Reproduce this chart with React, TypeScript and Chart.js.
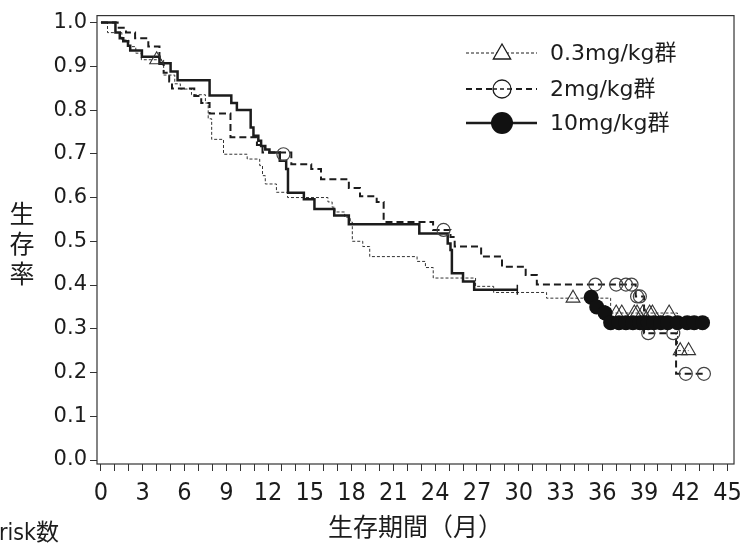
import React, { useEffect, useRef } from 'react';
import { Chart, registerables } from 'chart.js';

Chart.register(...registerables);

// ---- axis ticks ----
const xMinorTicks = [0,1,2,3,4,5,6,7,8,9,10,11,12,13,14,15,16,17,18,19,20,21,22,23,24,25,26,27,28,29,30,31,32,33,34,35,36,37,38,39,40,41,42,43,44,45];
const xLabelTicks = [0,3,6,9,12,15,18,21,24,27,30,33,36,39,42,45];
const yTicks = [0,0.1,0.2,0.3,0.4,0.5,0.6,0.7,0.8,0.9,1.0];

// ---- text ----
const seriesNames = ['0.3mg/kg群', '2mg/kg群', '10mg/kg群'];
const xTitle = '生存期間（月）';
const yTitleChars = ['生', '存', '率'];
const riskLabel = 'risk数';

// ---- 0.3 mg/kg (step curve) ----
const lowT = [0, 0.47, 1.5, 2.0, 2.5, 2.9, 4.5, 5.3, 5.7, 6.5, 7.5, 7.7, 7.95, 8.8, 10.5, 11.4, 11.6, 11.8, 12.6, 13.4, 16.3, 16.6, 16.8, 17.5, 17.9, 18.05, 18.8, 19.3, 22.7, 23.3, 23.86, 26.9, 28.2, 32.0, 36.6, 41.4, 42.2];
const lowS = [1.0, 0.977, 0.96, 0.945, 0.93, 0.915, 0.88, 0.86, 0.848, 0.835, 0.816, 0.78, 0.733, 0.699, 0.688, 0.673, 0.65, 0.631, 0.612, 0.6, 0.59, 0.578, 0.567, 0.555, 0.544, 0.5, 0.488, 0.465, 0.454, 0.44, 0.416, 0.397, 0.383, 0.37, 0.336, 0.25, 0.25];
const lowCensorT = [4.0, 33.9, 37.0, 37.4, 38.3, 38.5, 38.9, 39.4, 39.6, 40.8, 41.6, 42.2];
const lowCensorS = [0.915, 0.37, 0.336, 0.336, 0.336, 0.336, 0.336, 0.336, 0.336, 0.336, 0.25, 0.25];

// ---- 2 mg/kg ----
const midT = [0, 1.2, 1.8, 2.45, 3.4, 4.2, 4.5, 4.9, 5.1, 6.7, 7.2, 7.8, 9.3, 11.2, 11.6, 13.67, 15.1, 15.8, 17.8, 18.6, 19.8, 20.3, 23.85, 25.1, 25.4, 27.3, 28.8, 30.5, 31.3, 38.4, 39.0, 41.3, 43.3];
const midS = [1.0, 0.988, 0.977, 0.964, 0.945, 0.905, 0.885, 0.865, 0.849, 0.832, 0.816, 0.792, 0.738, 0.72, 0.703, 0.676, 0.665, 0.642, 0.622, 0.603, 0.59, 0.544, 0.526, 0.51, 0.488, 0.465, 0.442, 0.423, 0.401, 0.374, 0.29, 0.197, 0.197];
const midCensorT = [13.1, 24.6, 35.5, 37.0, 37.7, 38.1, 38.5, 38.7, 39.3, 41.1, 42.0, 43.3];
const midCensorS = [0.699, 0.526, 0.401, 0.401, 0.401, 0.401, 0.374, 0.374, 0.29, 0.29, 0.197, 0.197];

// ---- 10 mg/kg (null = gap in drawn curve) ----
const highT = [0, 1.04, 1.35, 1.6, 1.94, 2.1, 2.94, 4.2, 5.0, 5.5, 7.8, 9.36, 9.76, 10.75, 10.95, 11.3, 11.5, 11.8, 12.1, 12.84, 13.3, 13.43, 14.57, 15.33, 16.75, 17.8, 22.86, 24.9, 25.1, 25.2, 26.0, 26.8, 29.9, 32.0, 35.2, 35.6, 36.2, 36.5, 43.2];
const highS = [1.0, 0.977, 0.964, 0.957, 0.947, 0.936, 0.922, 0.907, 0.888, 0.868, 0.833, 0.816, 0.8, 0.76, 0.741, 0.73, 0.718, 0.71, 0.703, 0.684, 0.665, 0.611, 0.596, 0.574, 0.559, 0.539, 0.518, 0.495, 0.48, 0.427, 0.408, 0.389, 0.389, null, 0.372, 0.351, 0.336, 0.314, 0.314];
const highCensorT = [35.2, 35.6, 36.2, 36.6, 37.2, 37.7, 38.2, 38.7, 39.0, 39.3, 39.7, 40.2, 40.7, 41.4, 42.1, 42.6, 43.2];
const highCensorS = [0.372, 0.35, 0.336, 0.314, 0.314, 0.314, 0.314, 0.314, 0.314, 0.314, 0.314, 0.314, 0.314, 0.314, 0.314, 0.314, 0.314];
const highTickT = [29.9];
const highTickS = [0.389];

const pts = (t: number[], s: (number | null)[]) => t.map((x, i) => ({ x, y: s[i] }));

const INK = '#1c1c1c';

function drawTri(ctx: CanvasRenderingContext2D, x: number, y: number, r: number) {
  const side = (r * 3) / Math.sqrt(3);
  const h = (side * Math.sqrt(3)) / 2;
  ctx.beginPath();
  ctx.moveTo(x - side / 2, y + h / 3);
  ctx.lineTo(x + side / 2, y + h / 3);
  ctx.lineTo(x, y - (2 * h) / 3);
  ctx.closePath();
}

const decorPlugin = {
  id: 'decor',
  afterDraw(chart: any) {
    const { ctx, chartArea: a } = chart;
    ctx.save();
    ctx.strokeStyle = '#333';
    ctx.lineWidth = 1.2;
    ctx.setLineDash([]);
    ctx.strokeRect(a.left, a.top, a.right - a.left, a.bottom - a.top);

    ctx.fillStyle = INK;
    ctx.font = '25px "Noto Sans CJK JP"';
    ctx.textAlign = 'center';
    ctx.textBaseline = 'middle';
    yTitleChars.forEach((c, i) => ctx.fillText(c, 22, 213 + i * 30));
    ctx.font = '25px "Noto Sans CJK JP"';
    ctx.fillText(xTitle, (a.left + a.right) / 2, 526);

    ctx.textAlign = 'left';
    ctx.font = '23px "DejaVu Sans Condensed", "Noto Sans CJK JP"';
    ctx.fillText(riskLabel, -1, 534);

    // legend
    const rows = [53, 89, 123];
    const x0 = 466, x1 = 537, mx = 502;
    rows.forEach((y, i) => {
      ctx.strokeStyle = INK;
      if (i === 0) { ctx.lineWidth = 1; ctx.setLineDash([3, 2]); }
      else if (i === 1) { ctx.lineWidth = 2; ctx.setLineDash([6, 4]); }
      else { ctx.lineWidth = 2.5; ctx.setLineDash([]); }
      ctx.beginPath();
      ctx.moveTo(x0, y);
      ctx.lineTo(x1, y);
      ctx.stroke();
      ctx.setLineDash([]);
      if (i === 0) {
        drawTri(ctx, mx, y + 1, 10);
        ctx.fillStyle = '#fff';
        ctx.fill();
        ctx.lineWidth = 1.3;
        ctx.stroke();
      } else if (i === 1) {
        ctx.beginPath();
        ctx.arc(mx, y, 9, 0, Math.PI * 2);
        ctx.fillStyle = '#fff';
        ctx.fill();
        ctx.lineWidth = 1.3;
        ctx.stroke();
        ctx.beginPath();
        ctx.moveTo(mx - 9, y); ctx.lineTo(mx + 9, y);
        ctx.setLineDash([4, 3]);
        ctx.lineWidth = 1.5;
        ctx.stroke();
        ctx.setLineDash([]);
      } else {
        ctx.beginPath();
        ctx.arc(mx, y, 11, 0, Math.PI * 2);
        ctx.fillStyle = '#111';
        ctx.fill();
      }
      ctx.fillStyle = INK;
      ctx.font = '22px "DejaVu Sans", "Noto Sans CJK JP"';
      ctx.textAlign = 'left';
      ctx.textBaseline = 'middle';
      ctx.fillText(seriesNames[i], 550, y + 1);
    });
    ctx.restore();
  },
};

export default function App() {
  const ref = useRef<HTMLCanvasElement>(null);
  useEffect(() => {
    if (!ref.current) return;
    const chart = new Chart(ref.current, {
      type: 'scatter',
      data: {
        datasets: [
          {
            label: seriesNames[2] + ' censor',
            data: pts(highCensorT, highCensorS),
            pointStyle: 'circle',
            pointRadius: 7.5,
            backgroundColor: '#111',
            borderColor: '#111',
            borderWidth: 0,
            showLine: false,
          },
          {
            label: seriesNames[2] + ' tick',
            data: pts(highTickT, highTickS),
            pointStyle: 'line',
            rotation: 90,
            pointRadius: 5,
            borderColor: INK,
            borderWidth: 1.5,
            showLine: false,
          },
          {
            label: seriesNames[1] + ' censor',
            data: pts(midCensorT, midCensorS),
            pointStyle: 'circle',
            pointRadius: 6.5,
            backgroundColor: 'rgba(255,255,255,0)',
            borderColor: '#444',
            borderWidth: 1.2,
            showLine: false,
          },
          {
            label: seriesNames[0] + ' censor',
            data: pts(lowCensorT, lowCensorS),
            pointStyle: 'triangle',
            pointRadius: 8,
            backgroundColor: 'rgba(255,255,255,0)',
            borderColor: '#333',
            borderWidth: 1.1,
            showLine: false,
          },
          {
            label: seriesNames[2],
            data: pts(highT, highS),
            showLine: true,
            stepped: 'before',
            spanGaps: false,
            borderColor: INK,
            borderWidth: 2.5,
            pointRadius: 0,
          },
          {
            label: seriesNames[1],
            data: pts(midT, midS),
            showLine: true,
            stepped: 'before',
            borderColor: INK,
            borderWidth: 2,
            borderDash: [7, 4],
            pointRadius: 0,
          },
          {
            label: seriesNames[0],
            data: pts(lowT, lowS),
            showLine: true,
            stepped: 'before',
            borderColor: '#333',
            borderWidth: 1,
            borderDash: [3, 2],
            pointRadius: 0,
          },
        ],
      },
      options: {
        responsive: false,
        animation: false,
        devicePixelRatio: 1,
        layout: { padding: { top: 12, right: 9, left: 0, bottom: 0 } },
        plugins: { legend: { display: false }, tooltip: { enabled: false }, title: { display: false } },
        scales: {
          x: {
            type: 'linear',
            min: -0.285,
            max: 45.46,
            afterFit: (s: any) => { s.height = 81; },
            afterBuildTicks: (s: any) => { s.ticks = xMinorTicks.map((v) => ({ value: v })); },
            grid: { display: true, drawOnChartArea: false, drawTicks: true, tickLength: 7, color: '#333', lineWidth: 1 },
            border: { display: false },
            ticks: {
              autoSkip: false,
              maxRotation: 0,
              padding: 7,
              color: INK,
              font: { family: '"Liberation Sans Narrow", "DejaVu Sans Condensed", sans-serif', size: 25 },
              callback: (v: any) => (xLabelTicks.includes(v) ? String(v) : ''),
            },
          },
          y: {
            type: 'linear',
            min: -0.0091,
            max: 1.0159,
            afterFit: (s: any) => { s.width = 97; },
            afterBuildTicks: (s: any) => { s.ticks = yTicks.map((v) => ({ value: v })); },
            grid: { display: true, drawOnChartArea: false, drawTicks: true, tickLength: 7, color: '#333', lineWidth: 1 },
            border: { display: false },
            ticks: {
              padding: 3,
              color: INK,
              font: { family: '"DejaVu Sans", sans-serif', size: 21 },
              callback: (v: any) => Number(v).toFixed(1),
            },
          },
        },
      },
      plugins: [decorPlugin],
    });
    return () => chart.destroy();
  }, []);
  return (
    <div style={{ position: 'absolute', left: 0, top: 0, width: 749, height: 545, background: '#fff' }}>
      <canvas ref={ref} width={749} height={545} style={{ display: 'block' }} />
    </div>
  );
}
